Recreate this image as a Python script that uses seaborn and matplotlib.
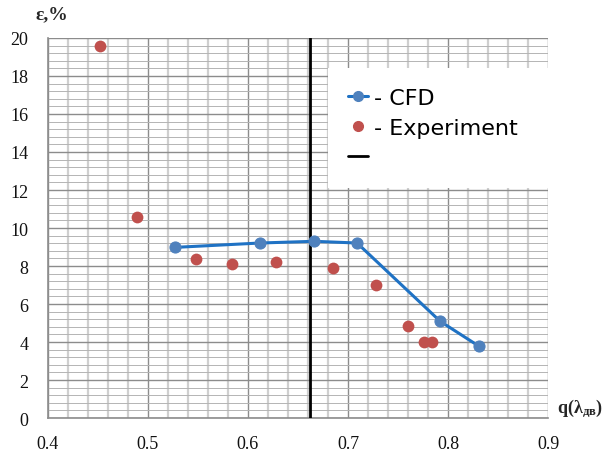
import numpy as np
import pandas as pd
import matplotlib
matplotlib.use("Agg")
import matplotlib.pyplot as plt
from matplotlib.lines import Line2D
from matplotlib.ticker import MultipleLocator
import seaborn as sns

# dane
cfd_q = [0.527, 0.612, 0.666, 0.709, 0.792, 0.831]
cfd_eps = [8.98, 9.21, 9.30, 9.21, 5.09, 3.77]

exp_q = [0.452, 0.489, 0.548, 0.584, 0.628, 0.685, 0.728, 0.760, 0.776, 0.784]
exp_eps = [19.6, 10.6, 8.39, 8.12, 8.23, 7.88, 7.02, 4.86, 4.02, 4.02]

vline_q = 0.662

x_ticks = [0.4, 0.5, 0.6, 0.7, 0.8, 0.9]
y_ticks = [0, 2, 4, 6, 8, 10, 12, 14, 16, 18, 20]

sns.set_style("white")
plt.rcParams['mathtext.fontset'] = 'custom'
plt.rcParams['mathtext.rm'] = 'Liberation Serif:bold'
plt.rcParams['mathtext.it'] = 'Liberation Serif:bold'
plt.rcParams['mathtext.bf'] = 'Liberation Serif:bold'

fig = plt.figure(figsize=(6.04, 4.56), dpi=100)
ax = fig.add_axes([0.079, 0.0811, 0.8288, 0.8334])

df_cfd = pd.DataFrame({'q': cfd_q, 'eps': cfd_eps})
df_exp = pd.DataFrame({'q': exp_q, 'eps': exp_eps})

blue_line = '#1f72c4'
blue_mark = '#4f81bd'
red_mark = '#c0504d'

sns.lineplot(data=df_cfd, x='q', y='eps', ax=ax, color=blue_line, linewidth=2.2,
             marker='o', markersize=8, markerfacecolor=blue_mark,
             markeredgecolor=blue_mark, sort=False, zorder=4)
sns.scatterplot(data=df_exp, x='q', y='eps', ax=ax, color=red_mark, s=72,
                edgecolor=red_mark, linewidth=0, zorder=4)
ax.axvline(vline_q, color='black', linewidth=2, zorder=3)

ax.set_xlim(0.4, 0.9)
ax.set_ylim(0, 20)
ax.set_xticks(x_ticks)
ax.set_yticks(y_ticks)
ax.set_xticklabels([f"{v:g}" for v in x_ticks])
ax.xaxis.set_minor_locator(MultipleLocator(0.02))
ax.yaxis.set_minor_locator(MultipleLocator(0.4))

ax.grid(which='major', axis='x', color='#8c8c8c', linewidth=1.0)
ax.grid(which='minor', axis='x', color='#cfcfcf', linewidth=1.6)
ax.grid(which='major', axis='y', color='#8c8c8c', linewidth=1.0)
ax.grid(which='minor', axis='y', color='#b4b4b4', linewidth=0.7)
ax.set_axisbelow(True)

for s in ['top', 'right']:
    ax.spines[s].set_visible(False)
for s in ['left', 'bottom']:
    ax.spines[s].set_color('#8c8c8c')
    ax.spines[s].set_linewidth(1.2)

ax.tick_params(which='major', direction='out', length=5, width=1, color='#8c8c8c',
               labelsize=13, labelcolor='#111111')
ax.tick_params(which='minor', length=0)
for lab in ax.get_xticklabels() + ax.get_yticklabels():
    lab.set_family('Liberation Serif')
ax.tick_params(axis='x', pad=7)
ax.tick_params(axis='y', pad=9)

ax.set_xlabel('')
ax.set_ylabel('')
ax.text(-0.024, 1.064, "ε,%", transform=ax.transAxes, family='Liberation Serif',
        fontweight='bold', fontsize=14, va='center', ha='left')
ax.text(1.017, 0.03, r"q($\mathrm{λ}_{\mathrm{дв}}$)", transform=ax.transAxes,
        family='Liberation Serif', fontweight='bold', fontsize=13, va='center', ha='left')

handles = [
    Line2D([], [], color=blue_line, linewidth=2.2, marker='o', markersize=7,
           markerfacecolor=blue_mark, markeredgecolor=blue_mark),
    Line2D([], [], linestyle='none', marker='o', markersize=7,
           markerfacecolor=red_mark, markeredgecolor=red_mark),
    Line2D([], [], color='black', linewidth=2),
]
labels = ["- CFD", "- Experiment", ""]
leg = ax.legend(handles, labels, loc='upper left', bbox_to_anchor=(0.56, 0.921, 0.44, 0.0),
                mode='expand', frameon=True, fancybox=False, borderaxespad=0,
                handlelength=0.9, handletextpad=0.25, labelspacing=0.45,
                prop={'family': 'DejaVu Sans', 'size': 16}, borderpad=0.9,
                labelcolor='black')
leg.get_frame().set_facecolor('white')
leg.get_frame().set_edgecolor('none')
leg.get_frame().set_alpha(1)
leg.set_zorder(5)

fig.savefig("out.png", dpi=100)
